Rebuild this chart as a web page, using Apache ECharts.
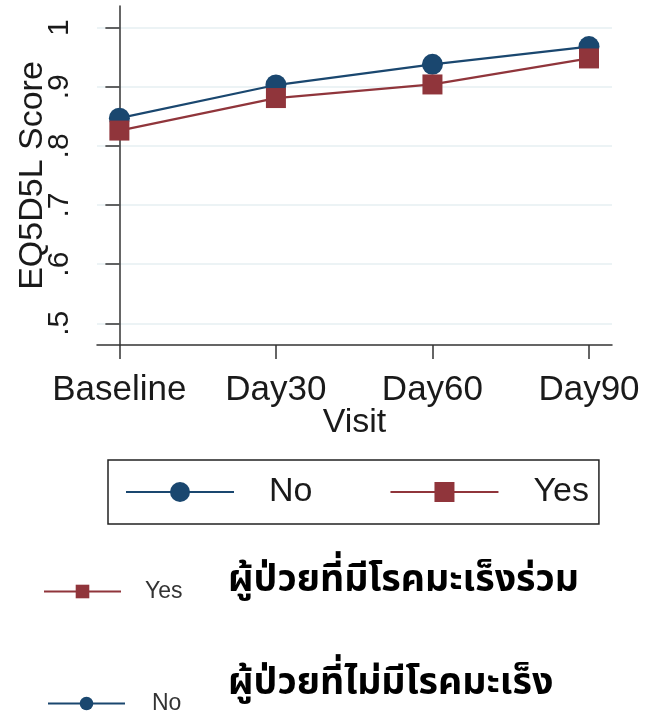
<!DOCTYPE html>
<html>
<head>
<meta charset="utf-8">
<script src="https://cdn.jsdelivr.net/npm/echarts@6/dist/echarts.min.js"></script>
<style>
html,body{margin:0;padding:0;background:#fff;}
#chart{width:653px;height:721px;}
</style>
</head>
<body>
<div id="chart"></div>
<script>
// ---- data ----
const categories = ['Baseline', 'Day30', 'Day60', 'Day90'];
const seriesNames = ['No', 'Yes'];
const noValues = [0.847, 0.903, 0.938, 0.968];
const yesValues = [0.826, 0.881, 0.904, 0.948];
const yTickValues = [0.5, 0.6, 0.7, 0.8, 0.9, 1.0];
const yTickLabels = ['.5', '.6', '.7', '.8', '.9', '1'];
const xTickValues = [0, 1, 2, 3];
const yAxisTitle = 'EQ5D5L Score';
const xAxisTitle = 'Visit';
const thaiLabels = ['ผู้ป่วยที่มีโรคมะเร็งร่วม', 'ผู้ป่วยที่ไม่มีโรคมะเร็ง'];

// ---- styles ----
const NAVY = '#1a476f';
const MAROON = '#90353b';
const FONT = '"Liberation Sans", Arial, sans-serif';
const THAI_FONT = '"Noto Sans Thai", "Noto Sans Thai UI", "Noto Sans", "DejaVu Sans", sans-serif';

const chart = echarts.init(document.getElementById('chart'));

function pairs(vals) { return vals.map((v, i) => [xTickValues[i], v]); }
function yLabel(v) {
  const i = yTickValues.findIndex(t => Math.abs(t - v) < 1e-9);
  return i >= 0 ? yTickLabels[i] : '';
}

const option = {
  backgroundColor: '#fff',
  animation: false,
  grid: { left: 97, right: 41, top: 6, bottom: 376, containLabel: false },
  xAxis: {
    type: 'value',
    min: -0.143,
    max: 3.147,
    name: xAxisTitle,
    nameLocation: 'middle',
    nameGap: 61,
    nameMoveOverlap: false,
    nameTextStyle: { fontFamily: FONT, fontSize: 34, color: '#1a1a1a', verticalAlign: 'top' },
    axisLine: { show: true, lineStyle: { color: '#333', width: 1.5 } },
    axisTick: { show: true, length: 14, customValues: xTickValues, lineStyle: { color: '#333', width: 1.5 } },
    axisLabel: {
      customValues: xTickValues,
      margin: 28,
      fontFamily: FONT, fontSize: 35, color: '#1a1a1a',
      formatter: v => categories[Math.round(v)] || ''
    },
    splitLine: { show: false }
  },
  yAxis: {
    type: 'value',
    min: 0.4633,
    max: 1.0367,
    name: yAxisTitle,
    nameLocation: 'middle',
    nameGap: 47,
    nameRotate: 90,
    nameMoveOverlap: false,
    nameTextStyle: { fontFamily: FONT, fontSize: 34, color: '#1a1a1a' },
    axisLine: { show: true, lineStyle: { color: '#333', width: 1.5 } },
    axisTick: { show: true, length: 14, customValues: yTickValues, lineStyle: { color: '#333', width: 1.5 } },
    axisLabel: {
      customValues: yTickValues,
      rotate: 90,
      margin: 22,
      fontFamily: FONT, fontSize: 30, color: '#1a1a1a',
      formatter: yLabel
    },
    splitLine: { show: true, lineStyle: { color: '#e6eff2', width: 1.5 } }
  },
  legend: [
    {
      data: seriesNames,
      left: 108, top: 460,
      orient: 'horizontal',
      padding: [15, 10, 15, 17],
      itemWidth: 108, itemHeight: 25, itemGap: 77,
      borderColor: '#222', borderWidth: 1.5,
      selectedMode: false,
      textStyle: { fontFamily: FONT, fontSize: 34, color: '#1a1a1a', padding: [0, 0, 0, 30] }
    },
    {
      data: [seriesNames[1]],
      left: 43, top: 580, padding: 0,
      itemWidth: 77, itemHeight: 17,
      selectedMode: false,
      textStyle: { fontFamily: FONT, fontSize: 23, color: '#333', padding: [0, 0, 0, 19] }
    },
    {
      data: [seriesNames[0]],
      left: 47, top: 692, padding: 0,
      itemWidth: 77, itemHeight: 17,
      selectedMode: false,
      textStyle: { fontFamily: FONT, fontSize: 23, color: '#333', padding: [0, 0, 0, 22] }
    }
  ],
  graphic: [
    { type: 'text', left: 228, top: 564, style: { text: thaiLabels[0], font: 'bold 37.5px ' + THAI_FONT, fill: '#000' } },
    { type: 'text', left: 228, top: 667, style: { text: thaiLabels[1], font: 'bold 37.5px ' + THAI_FONT, fill: '#000' } }
  ],
  series: [
    {
      name: seriesNames[0],
      type: 'line',
      data: pairs(noValues),
      symbol: 'circle', symbolSize: 21,
      lineStyle: { color: NAVY, width: 2.2 },
      itemStyle: { color: NAVY },
      z: 2
    },
    {
      name: seriesNames[1],
      type: 'line',
      data: pairs(yesValues),
      symbol: 'rect', symbolSize: 20,
      lineStyle: { color: MAROON, width: 2.2 },
      itemStyle: { color: MAROON },
      z: 3
    }
  ]
};
chart.setOption(option);
</script>
</body>
</html>
